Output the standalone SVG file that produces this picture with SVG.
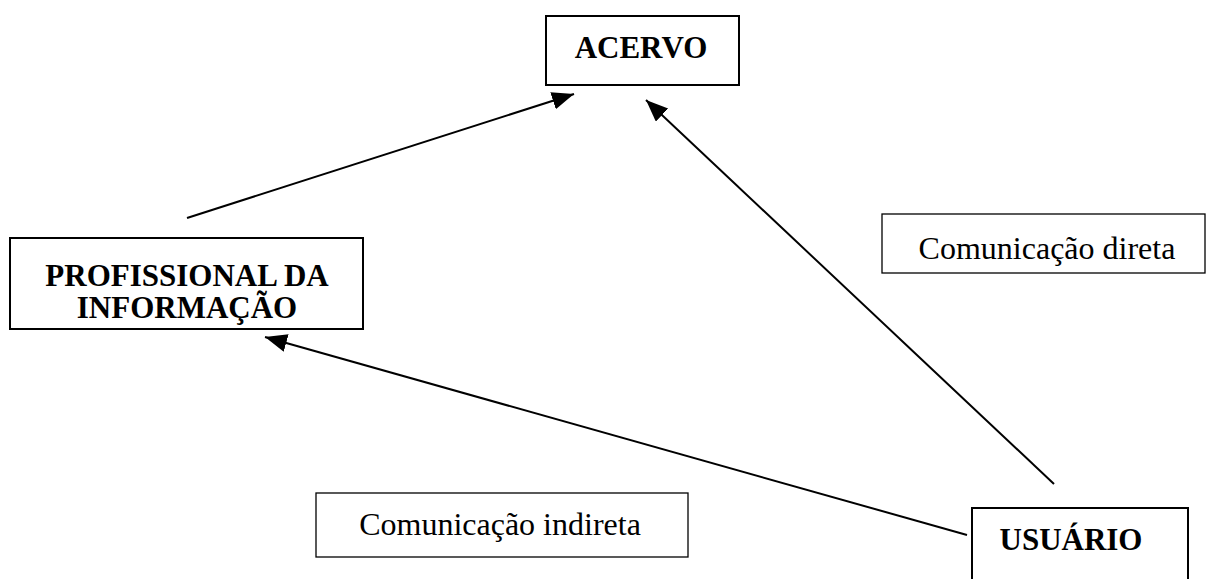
<svg xmlns="http://www.w3.org/2000/svg" width="1208" height="579" viewBox="0 0 1208 579">
<style>
.box{fill:#fff;stroke:#000;stroke-width:2}
.lbox{fill:#fff;stroke:#000;stroke-width:1.3}
.b{font-family:"Liberation Serif","Times New Roman",serif;font-weight:bold;font-size:31px;text-anchor:middle;fill:#000}
.r{font-family:"Liberation Serif","Times New Roman",serif;font-size:32px;text-anchor:middle;fill:#000}
.c{stroke:#000;stroke-width:2;fill:none;marker-end:url(#ah)}
</style>
<defs>
<marker id="ah" markerUnits="userSpaceOnUse" markerWidth="24" markerHeight="20" refX="22" refY="9" orient="auto">
<path d="M0,0 L22,9 L0,18 z" fill="#000"/>
</marker>
</defs>
<rect width="1208" height="579" fill="#fff"/>
<g id="acervo">
<rect class="box" x="546" y="16" width="193" height="69"/>
<text class="b" x="641" y="58">ACERVO</text>
</g>
<g id="profissional">
<rect class="box" x="10" y="238" width="353" height="91"/>
<text class="b" x="187" y="286">PROFISSIONAL DA</text>
<text class="b" x="187" y="318">INFORMAÇÃO</text>
</g>
<g id="usuario">
<rect class="box" x="972" y="508" width="216" height="80"/>
<text class="b" x="1071" y="550">USUÁRIO</text>
</g>
<g id="label-direta">
<rect class="lbox" x="882" y="214" width="323" height="59"/>
<text class="r" x="1047" y="259">Comunicação direta</text>
</g>
<g id="label-indireta">
<rect class="lbox" x="316" y="493" width="372" height="64"/>
<text class="r" x="500" y="535">Comunicação indireta</text>
</g>
<g id="connectors">
<line class="c" x1="187" y1="218" x2="574" y2="94"/>
<line class="c" x1="1054" y1="484" x2="646" y2="100"/>
<line class="c" x1="967" y1="535" x2="265" y2="337"/>
</g>
</svg>
